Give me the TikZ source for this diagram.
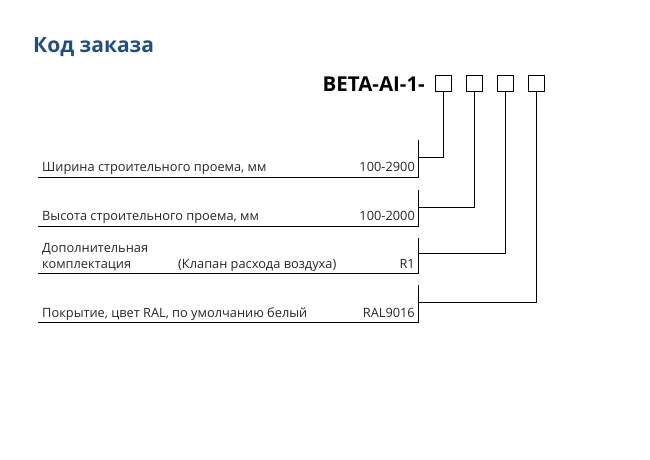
\documentclass[tikz,border=0pt]{standalone}
\usepackage{fontspec}
\setmainfont{Open Sans}
\definecolor{titleblue}{HTML}{1F4E87}
\begin{document}
\begin{tikzpicture}[x=1pt,y=-1pt,
  ln/.style={line width=0.9pt,black},
  box/.style={draw,line width=0.9pt,minimum width=16pt,minimum height=16pt,inner sep=0pt},
  lbl/.style={anchor=base west,inner sep=0pt,font=\fontsize{12.8}{15}\selectfont,text=black!85},
  val/.style={anchor=base east,inner sep=0pt,font=\fontsize{12.8}{15}\selectfont,text=black!85}]
\useasboundingbox (0,0) rectangle (650,459);
\node[anchor=base west,inner sep=0pt,font=\fontsize{21}{25}\bfseries\selectfont,text=titleblue] (title) at (33,52) {Код заказа};
\node[anchor=base east,inner sep=0pt,font=\fontsize{20.5}{24}\bfseries\selectfont] (code) at (425,91) {BETA-AI-1-};
\foreach \i/\x in {1/443,2/474,3/505,4/536}{
  \node[box] (b\i) at (\x,83) {};
}
\foreach \i/\t/\l/\c in {1/140/177/157,2/190/226/207,3/238/273/253,4/285/322/302}{
  \coordinate (s\i) at (38,\l);
  \coordinate (e\i) at (418,\l);
  \coordinate (t\i) at (418,\t);
  \coordinate (k\i) at (418,\c);
  \draw[ln] (s\i) -- (e\i) -- (t\i);
  \draw[ln] (k\i) -| (b\i.south);
}
\node[lbl] (l1) at (42,171) {Ширина строительного проема, мм};
\node[val] (v1) at (415,171) {100-2900};
\node[lbl] (l2) at (42,220) {Высота строительного проема, мм};
\node[val] (v2) at (415,220) {100-2000};
\node[lbl] (l3a) at (42,252) {Дополнительная};
\node[lbl] (l3b) at (42,268) {комплектация};
\node[lbl] (l3c) at (178,268) {(Клапан расхода воздуха)};
\node[val] (v3) at (415,268) {R1};
\node[lbl] (l4) at (42,317) {Покрытие, цвет RAL, по умолчанию белый};
\node[val] (v4) at (415,317) {RAL9016};
\end{tikzpicture}
\end{document}
